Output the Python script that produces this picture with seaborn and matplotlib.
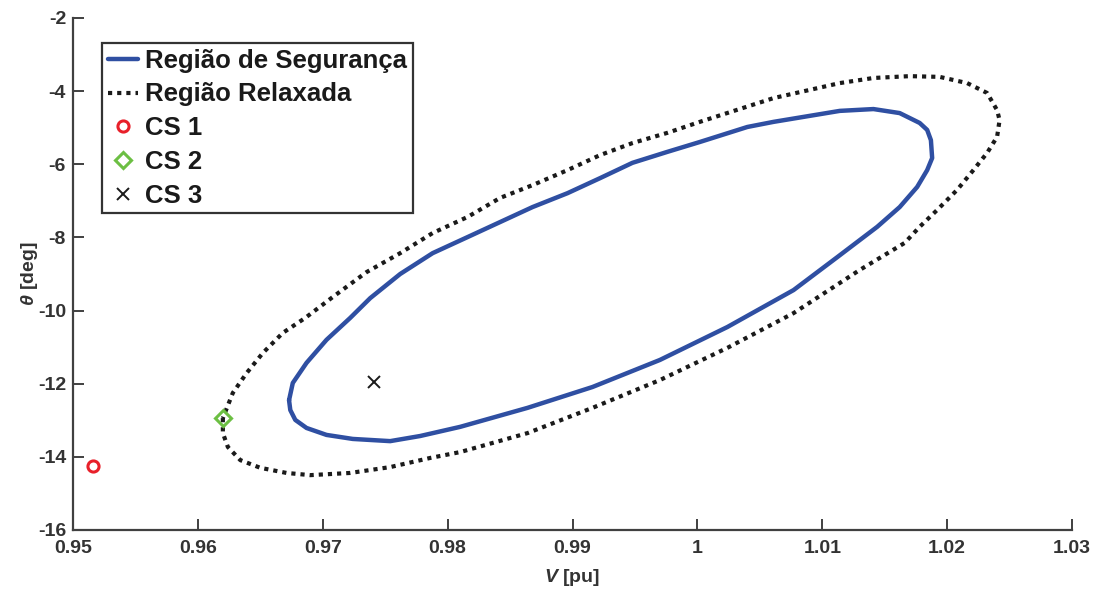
import matplotlib
matplotlib.use("Agg")
import matplotlib.pyplot as plt
import seaborn as sns
import pandas as pd

# Security region (solid blue)
seg_V = [0.9673, 0.9674, 0.9678, 0.9687, 0.9703, 0.9724, 0.9754, 0.9778, 0.9810,
         0.9864, 0.9916, 0.9970, 1.0024, 1.0077, 1.0112, 1.0144, 1.0162, 1.0176,
         1.0184, 1.0188, 1.0187, 1.0184, 1.0178, 1.0162, 1.0141, 1.0114, 1.0061,
         1.0040, 1.0002, 0.9976, 0.9948, 0.9922, 0.9896, 0.9868, 0.9842, 0.9816,
         0.9788, 0.9762, 0.9738, 0.9722, 0.9703, 0.9687, 0.9676, 0.9673]
seg_T = [-12.45, -12.72, -12.99, -13.21, -13.40, -13.51, -13.57, -13.43, -13.18,
         -12.66, -12.09, -11.35, -10.45, -9.44, -8.54, -7.71, -7.17, -6.62,
         -6.16, -5.83, -5.34, -5.06, -4.87, -4.60, -4.49, -4.54, -4.84,
         -4.98, -5.39, -5.66, -5.96, -6.38, -6.79, -7.17, -7.58, -7.99,
         -8.43, -9.00, -9.66, -10.20, -10.80, -11.43, -11.98, -12.45]

# Relaxed region (dotted black)
rel_V = [0.9620, 0.9620, 0.9624, 0.9634, 0.9650, 0.9671, 0.9690, 0.9722, 0.9754,
         0.9786, 0.9810, 0.9864, 0.9916, 0.9970, 1.0024, 1.0077, 1.0130, 1.0166,
         1.0178, 1.0192, 1.0208, 1.0221, 1.0232, 1.0240, 1.0242, 1.0240, 1.0232,
         1.0216, 1.0194, 1.0170, 1.0141, 1.0114, 1.0061, 1.0002, 0.9976, 0.9948,
         0.9922, 0.9896, 0.9868, 0.9842, 0.9816, 0.9788, 0.9762, 0.9735, 0.9708,
         0.9686, 0.9668, 0.9652, 0.9639, 0.9628, 0.9620]
rel_T = [-12.94, -13.35, -13.73, -14.09, -14.30, -14.44, -14.50, -14.44, -14.28,
         -14.03, -13.87, -13.35, -12.66, -11.90, -11.02, -10.07, -8.89, -8.15,
         -7.71, -7.25, -6.70, -6.16, -5.69, -5.25, -4.79, -4.52, -4.05,
         -3.78, -3.61, -3.59, -3.64, -3.78, -4.19, -4.84, -5.14, -5.42,
         -5.75, -6.16, -6.57, -6.92, -7.44, -7.88, -8.43, -8.95, -9.63,
         -10.20, -10.61, -11.16, -11.71, -12.25, -12.94]

cs_names = ["CS 1", "CS 2", "CS 3"]
cs_V = [0.9516, 0.9620, 0.9741]
cs_T = [-14.25, -12.94, -11.95]

x_ticks = [0.95, 0.96, 0.97, 0.98, 0.99, 1.00, 1.01, 1.02, 1.03]
x_ticklabels = ["0.95", "0.96", "0.97", "0.98", "0.99", "1", "1.01", "1.02", "1.03"]
y_ticks = [-16, -14, -12, -10, -8, -6, -4, -2]

sns.set_theme(style="ticks")
plt.rcParams["font.family"] = ["Liberation Sans", "DejaVu Sans"]
plt.rcParams["font.weight"] = "bold"
plt.rcParams["mathtext.fontset"] = "custom"
plt.rcParams["mathtext.it"] = "Liberation Sans:italic:bold"
plt.rcParams["mathtext.rm"] = "Liberation Sans:bold"

fig = plt.figure(figsize=(10.93, 5.90), dpi=100)
ax = fig.add_axes([0.0668, 0.1017, 0.9140, 0.8678])

df_seg = pd.DataFrame({"V": seg_V, "T": seg_T})
df_rel = pd.DataFrame({"V": rel_V, "T": rel_T})

sns.lineplot(data=df_seg, x="V", y="T", sort=False, estimator=None, ax=ax,
             color="#2f4fa2", linewidth=3.2, label="Região de Segurança")
sns.lineplot(data=df_rel, x="V", y="T", sort=False, estimator=None, ax=ax,
             color="#1a1a1a", linewidth=3.0, linestyle=(0, (1, 1.2)),
             label="Região Relaxada")

ax.plot(cs_V[0], cs_T[0], linestyle="none", marker="o", markersize=8,
        markerfacecolor="none", markeredgecolor="#e8202a", markeredgewidth=2.2,
        label=cs_names[0])
ax.plot(cs_V[1], cs_T[1], linestyle="none", marker="D", markersize=8,
        markerfacecolor="none", markeredgecolor="#6cbf43", markeredgewidth=2.2,
        label=cs_names[1])
ax.plot(cs_V[2], cs_T[2], linestyle="none", marker="x", markersize=9,
        markeredgecolor="#1a1a1a", markeredgewidth=1.4, label=cs_names[2])

ax.set_xlim(0.95, 1.03)
ax.set_ylim(-16, -2)
ax.set_xticks(x_ticks)
ax.set_xticklabels(x_ticklabels)
ax.set_yticks(y_ticks)
ax.set_yticklabels([str(t) for t in y_ticks])

for s in ["top", "right"]:
    ax.spines[s].set_visible(False)
for s in ["left", "bottom"]:
    ax.spines[s].set_color("#404040")
    ax.spines[s].set_linewidth(1.6)

ax.tick_params(direction="in", length=8, width=1.4, colors="#404040",
               labelsize=14, labelcolor="#333333")
ax.tick_params(axis="x", pad=7)
ax.tick_params(axis="y", pad=5)
for lbl in ax.get_xticklabels() + ax.get_yticklabels():
    lbl.set_fontweight("bold")

ax.set_xlabel(r"$V$ [pu]", fontsize=14, fontweight="bold", color="#333333")
ax.set_ylabel(r"$\theta$ [deg]", fontsize=14, fontweight="bold", color="#333333")
ax.xaxis.set_label_coords(0.5, -0.072)
ax.yaxis.set_label_coords(-0.033, 0.5)

leg = ax.legend(loc="upper left", bbox_to_anchor=(0.029, 0.951), borderaxespad=0,
                frameon=True, fancybox=False, framealpha=1, edgecolor="#333333",
                prop={"size": 18.5, "weight": "bold"}, handlelength=1.2,
                handletextpad=0.25, labelspacing=0.38, borderpad=0.22)
leg.get_frame().set_linewidth(1.6)
for t in leg.get_texts():
    t.set_color("#1a1a1a")

fig.savefig("out.png", dpi=100)
